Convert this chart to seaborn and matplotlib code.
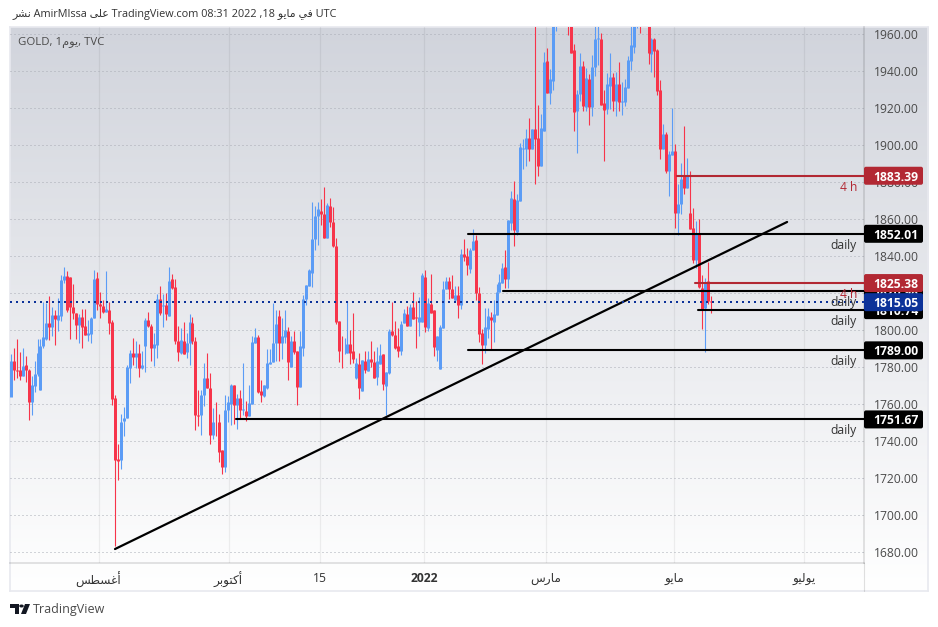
import matplotlib
matplotlib.use('Agg')
import matplotlib.pyplot as plt
import numpy as np
import pandas as pd
import seaborn as sns
from matplotlib.colors import LinearSegmentedColormap
from matplotlib.patches import FancyBboxPatch, Polygon, Circle
from matplotlib.transforms import IdentityTransform

# daily candles (the ones above 1964 are off screen, so guessed)
opens = [1764,1783,1778.6,1778.6,1775.4,1781.3,1778.6,1761.3,1769.6,1776.1,
    1767.4,1791.2,1795.3,1804,1801.8,1808.3,1805.6,1807.4,1826.8,1829.4,
    1828.8,1812.4,1809.2,1802.9,1807,1802.4,1797.1,1798,1806.3,1828.3,
    1814.2,1813.2,1809.9,1811,1804.5,1763,1730.4,1729.5,1750.9,1752.7,
    1779.3,1787.8,1785.6,1787.8,1779.7,1791.6,1805.6,1802.4,1790.5,1792.1,
    1817,1813.2,1813.7,1807.8,1827.7,1823.4,1793.9,1787.8,1794.3,1788,
    1793,1804,1794.3,1754.3,1753.9,1764.6,1774.3,1768.9,1743,1750.5,
    1750.5,1735.4,1725.7,1756.6,1759.9,1770.5,1759.7,1763.2,1756.9,1756.2,
    1753.5,1760,1792.9,1796.1,1767,1764.3,1768.6,1781.5,1782.6,1792.9,
    1807.5,1792.9,1796,1799.2,1779.9,1794,1788.7,1769.1,1790.2,1816.6,
    1823.7,1830.7,1849,1861.5,1864.2,1862.5,1849.6,1866.9,1858.2,1845.3,
    1804.8,1788.9,1788.4,1787.8,1792.3,1788.7,1774,1781.5,1767,1783.2,
    1778,1784.2,1782.6,1774.5,1781.5,1787,1769.7,1776.7,1799.4,1797.2,
    1791.3,1788.6,1803.7,1808.5,1802,1812.3,1807,1804.2,1804.2,1828.5,
    1801,1814,1810.7,1789.1,1778.8,1801.2,1821.9,1826.4,1822,1816.1,
    1818.8,1813.6,1840.9,1839.8,1832.8,1843,1848.4,1819.8,1798.2,1791.7,
    1800.4,1806.9,1804.1,1807.9,1820.3,1825.2,1833.8,1827.4,1858.1,1871,
    1853.1,1870,1897.6,1897.6,1904,1898.1,1908.4,1904,1888.9,1907.8,
    1945.6,1928.3,1934.8,1975,1995,2000,2050,1990,1985,1951.4,
    1918.6,1927.8,1942.9,1920.8,1935.9,1920.8,1942.4,1957.5,1957.5,1922.9,
    1919.5,1932,1937,1924,1933.2,1923.5,1923.5,1931,1945.6,1953.2,
    1972,1980,1972,1980,1985,1949.4,1957.5,1951.6,1930,1898.1,
    1905.7,1885.7,1894.5,1897,1863,1867.9,1883,1876.5,1863.5,1854.9,
    1837.6,1852.7,1822.5,1811.7,1826.3,1815.5]
highs = [1787,1790.3,1795.2,1788.3,1790.3,1786.2,1779.1,1775,1783.5,1795.2,
    1795.2,1815.1,1814.6,1818.6,1812.4,1811,1817.3,1829.9,1834,1831.7,
    1828.8,1824.9,1809.2,1808.8,1811.4,1811.4,1805.6,1807,1832.6,1831.5,
    1820.4,1816.4,1832,1815.3,1805.2,1765.1,1738.6,1754.8,1758.6,1781,
    1789,1795.9,1794.3,1792.6,1788.9,1806.5,1809.7,1803.4,1798.6,1819.5,
    1823.6,1819.6,1820,1834,1830.4,1827.6,1802.4,1801.3,1804.2,1798.6,
    1808.8,1807,1796.2,1767.8,1767.8,1782.2,1787.8,1777,1758,1761.1,
    1754.8,1735.4,1764.6,1764.2,1771,1770.5,1765.6,1767.5,1782.1,1761.6,
    1770.2,1796.7,1801,1797.2,1772.9,1770.2,1789.5,1789.6,1814.5,1810.7,
    1810.7,1806.6,1810.7,1801.5,1796.8,1799.2,1788.7,1799.2,1818.8,1824.2,
    1832.8,1869.2,1867,1869.2,1870.6,1877.1,1868.5,1871.2,1866.3,1849.6,
    1804.8,1796.7,1795.6,1815.6,1799.9,1809,1784.8,1787.5,1783.7,1788.5,
    1788.5,1794,1788.5,1790.7,1792.3,1787,1777.2,1800.4,1815,1804.8,
    1801,1804.8,1811.2,1812.9,1814,1820.4,1815.6,1817.7,1830.7,1832.3,
    1817.2,1830.1,1810.7,1796.7,1802.6,1826.4,1828.5,1828.5,1829.6,1823.7,
    1823.7,1844,1849,1844.1,1844.1,1854.4,1851.1,1823,1800.4,1811.7,
    1811.7,1810,1816,1824.7,1830.1,1836,1843,1859.2,1874.9,1880.3,
    1873.3,1901.3,1903,1908.9,1914.8,1908.9,1975,1921.9,1917,1950.5,
    1952.6,1941.3,1975,2000,2010,2070,2055,2010,1990,1954.8,
    1930,1949.9,1945.6,1941.8,1938.6,1948.9,1972,1975,1960.7,1929.9,
    1939,1949.9,1939.1,1939.7,1945.1,1934,1935.9,1948.3,1970,1975,
    1985,1990,1985,1990,1990,1958,1958,1952.1,1935.4,1911.6,
    1907.3,1897,1920.2,1900.3,1878.7,1890.5,1910.5,1893.2,1886.2,1866.2,
    1858.7,1859.8,1830,1827.9,1837,1818.2]
lows = [1764.2,1772.8,1773.9,1773.2,1775,1771.8,1751.2,1753.8,1766.4,1775.4,
    1767.4,1790.5,1794.4,1794.8,1797,1792.1,1799.3,1804.7,1825.4,1809.6,
    1795.3,1806,1795.3,1793,1790.1,1797.1,1794.3,1793,1806.3,1811,
    1806.3,1809.2,1809.9,1798,1759.3,1683.2,1718.8,1724.6,1742.6,1752.3,
    1771.4,1781.3,1779.5,1774.8,1779,1777.2,1801.5,1783.1,1780.8,1784.9,
    1808.3,1801.8,1805.2,1807.8,1822.2,1792.6,1783.1,1787.2,1787.2,1785.1,
    1781.3,1792.6,1746.2,1748,1743,1758.8,1768.5,1738.6,1741.3,1742.6,
    1728.9,1722.4,1723.2,1750.5,1748.5,1749.4,1746.7,1751.8,1754,1751,
    1753.5,1760,1792.9,1765.9,1761.2,1763.7,1768,1781.5,1782.6,1783.3,
    1783.2,1784.2,1793.2,1772.9,1779.9,1787,1759.4,1769.1,1785.9,1813.4,
    1823.7,1823.1,1843.1,1845.8,1856.6,1849.6,1849.6,1855.5,1844.7,1803.1,
    1782.8,1779.4,1787,1787.8,1781.5,1782.1,1773.4,1762.6,1767,1776.7,
    1777.8,1780,1774,1770.2,1781.4,1767.5,1754,1776.1,1796.7,1789.6,
    1785.3,1786.4,1803.7,1802,1802,1805.8,1790.2,1796.7,1804.2,1798.8,
    1799.4,1809.1,1785.9,1783.2,1778.8,1801.2,1821.9,1816.6,1817.2,1815.6,
    1806.4,1811.2,1837.1,1830,1830.6,1843,1816,1793.3,1781.5,1787.4,
    1795.5,1789.6,1793.3,1807.9,1820.3,1825.2,1822.5,1822.5,1853.8,1845.2,
    1851.1,1870,1887.3,1888.4,1891.6,1898.1,1878.7,1883.5,1888.9,1907.8,
    1928.3,1922.4,1930,1961.5,1985,1990,1985,1959.3,1949.9,1907.8,
    1895.9,1924,1918.6,1918.6,1911,1915.9,1937.5,1943.5,1921.9,1891.1,
    1916.5,1919.7,1918.6,1915.9,1918.6,1916,1921.3,1931,1940.8,1949.9,
    1963.4,1960.7,1965,1968,1944,1939.7,1937,1927.3,1892.2,1898.1,
    1885.1,1872.7,1894.5,1855,1851.1,1862.5,1873.3,1876.5,1854.4,1836,
    1833.3,1822.5,1800.4,1788.3,1813.9,1809]
closes = [1783,1778.2,1777.7,1775.4,1780.8,1778.2,1761,1770.5,1776.4,1787.6,
    1791.6,1796.2,1804,1801.8,1808.3,1806,1808.3,1827.2,1829.4,1811,
    1812.4,1809.2,1802.9,1807,1801.6,1797.1,1798.6,1806.7,1827.7,1814.2,
    1812.8,1809.9,1811.4,1803.6,1762.6,1729.6,1729,1750.5,1752.7,1779.9,
    1787.8,1785.6,1787.8,1779.7,1781.3,1805.6,1802.4,1790.1,1792.6,1817,
    1809.2,1813.7,1808.5,1826.3,1822.9,1793.9,1788.3,1794.8,1787.2,1793,
    1804.3,1793.9,1753.8,1753.4,1764.6,1774.3,1768.5,1743,1750.5,1750.2,
    1734,1725.7,1757,1761.3,1770.1,1759.7,1763,1756.9,1757.2,1753.5,
    1760.5,1793.4,1796.1,1766.4,1764.8,1770.2,1782.1,1782.6,1792.9,1803,
    1792.9,1796.5,1799.9,1782.6,1794,1788,1769.1,1791.3,1817,1824.2,
    1832.3,1849,1861.5,1865.2,1862.5,1849.6,1867.4,1858.2,1845.3,1804.2,
    1788.6,1788.6,1788.9,1792.3,1787.8,1784.2,1782.1,1768.6,1783.7,1778.3,
    1784.2,1782.6,1774,1783.2,1786.4,1770.7,1777.2,1799.4,1797.2,1790.2,
    1788.6,1803.1,1809.1,1802,1812.3,1805.8,1806.4,1806.9,1829.6,1801.5,
    1814.5,1809.1,1790.7,1796.7,1801.5,1822,1826.4,1822,1817.2,1818.8,
    1813.4,1841,1839.2,1834.9,1843.5,1848.2,1819.8,1797.7,1791.7,1801.4,
    1807.4,1805.2,1808.5,1820.7,1826.1,1833.3,1827.4,1859.2,1871.6,1853.8,
    1870.2,1899.2,1898.5,1904,1898.1,1908.4,1903,1888.9,1909.4,1945.1,
    1928.3,1935.9,1970,1995,2000,2050,1990,1985,1949.9,1918.1,
    1927.8,1942.9,1921.3,1936.4,1920.8,1942.4,1957.5,1958,1921.9,1919.2,
    1933.2,1937,1924,1933.2,1923.5,1924,1931.6,1946.2,1954.3,1972,
    1980,1972,1980,1985,1950,1957.5,1951,1929.4,1898.1,1905.7,
    1885.7,1894.9,1896.5,1863,1867.9,1881.9,1876.5,1883.5,1854.4,1837.6,
    1852.7,1823,1811.2,1825.2,1815.9,1815.05]

price_ticks = list(range(1680, 1961, 20))
month_pos = [29.5, 73.1, 103.8, 138.6, 179.5, 222.6, 266.2]
# arabic written in presentation forms, left to right, matplotlib has no shaping
month_labels = ['\ufeb2\ufec4\ufeb4\ufecf\ufe83', '\ufeae\ufe91\ufeee\ufe98\ufedb\ufe83', '15', '2022',
                '\ufeb1\ufead\ufe8e\ufee3', '\ufeee\ufef3\ufe8e\ufee3', '\ufeee\ufef4\ufedf\ufeee\ufef3']

level_prices = [1883.39, 1852.01, 1825.38, 1820.98, 1810.74, 1789.00, 1751.67]
level_starts = [223.6, 153.5, 229.6, 165.2, 230.6, 153.5, 75.6]
level_tags = ['4 h', 'daily', '4 h', 'daily', 'daily', 'daily', 'daily']
level_colors = ['#b22833', 'black', '#b22833', 'black', 'black', 'black', 'black']
trend_bars = [35, 260.5]
trend_prices = [1681.6, 1858.4]
last_price = 1815.05

RED = '#f7344a'
BLUE = '#5b9cf6'
W, H = 938, 627

sns.set_theme(style='white')
plt.rcParams['font.family'] = ['Open Sans', 'DejaVu Sans']

df = pd.DataFrame({'open': opens, 'high': highs, 'low': lows, 'close': closes})
df['bar'] = np.arange(len(df))
df['dir'] = np.where(df['close'] >= df['open'], 'up', 'down')
wicks = df.melt(id_vars=['bar', 'dir'], value_vars=['high', 'low'], value_name='price')
bodies = df.melt(id_vars=['bar', 'dir'], value_vars=['open', 'close'], value_name='price')

fig = plt.figure(figsize=(W / 100, H / 100), dpi=100, facecolor='white')


def px_axes(left, top, right, bottom):
    return fig.add_axes([left / W, 1 - bottom / H, (right - left) / W, (bottom - top) / H])


# background gradient, behind everything
bg = px_axes(10, 27, 928, 591)
cmap = LinearSegmentedColormap.from_list('tv', ['#d1d4dc', '#ffffff'])
bg.imshow(np.linspace(0, 1, 256)[:, None], aspect='auto', cmap=cmap)
bg.set_xticks([])
bg.set_yticks([])
for s in bg.spines.values():
    s.set_color('#e8e9ef')
    s.set_linewidth(1.2)
bg.set_zorder(0)

ax = px_axes(10, 27, 864, 563)
ax.set_facecolor('none')
ax.set_zorder(1)

palette = {'up': BLUE, 'down': RED}
sns.lineplot(data=wicks, x='bar', y='price', units='bar', estimator=None, hue='dir', palette=palette,
             linewidth=0.8, legend=False, ax=ax, solid_capstyle='butt')
sns.lineplot(data=bodies, x='bar', y='price', units='bar', estimator=None, hue='dir', palette=palette,
             linewidth=2.15, legend=False, ax=ax, solid_capstyle='butt')

ax.set_xlim(-0.23, 286.3)
ax.set_ylim(1674.05, 1963.8)

# levels and trend line
for p, start, c in zip(level_prices, level_starts, level_colors):
    line = pd.DataFrame({'bar': [start, 286.3], 'price': [p, p]})
    sns.lineplot(data=line, x='bar', y='price', color=c, linewidth=1.5, ax=ax, zorder=4)
trend = pd.DataFrame({'bar': trend_bars, 'price': trend_prices})
sns.lineplot(data=trend, x='bar', y='price', color='black', linewidth=1.6, ax=ax, zorder=4)
ax.axhline(last_price, color='#0c3299', linewidth=1.44, linestyle=(0, (1, 2)), zorder=4,
           dash_capstyle='butt')

ax.set_xlabel('')
ax.set_ylabel('')
ax.yaxis.tick_right()
ax.set_yticks(price_ticks)
ax.set_yticklabels(['%.2f' % t for t in price_ticks], fontsize=8.7, color='#4a4a4a')
ax.set_xticks(month_pos)
ax.set_xticklabels(month_labels, fontsize=8.7, color='#333333')
ax.get_xticklabels()[3].set_fontweight('bold')
ax.tick_params(axis='both', length=0)
ax.tick_params(axis='y', pad=7)
ax.tick_params(axis='x', pad=6.5)
ax.set_axisbelow(True)
ax.grid(True, axis='y', color='#a9acb5', linewidth=0.72, linestyle=(0, (1, 3)))
ax.grid(True, axis='x', color='black', alpha=0.06, linewidth=0.9)
ax.spines['left'].set_visible(False)
ax.spines['top'].set_visible(False)
ax.spines['right'].set_color((0, 0, 0, 0.12))
ax.spines['bottom'].set_color((0, 0, 0, 0.12))

# separator of the price strip runs on through the time strip
fig.add_artist(plt.Line2D([864 / W, 864 / W], [1 - 591 / H, 1 - 563 / H], color=(0, 0, 0, 0.12), linewidth=0.8))

# right hand labels, black one in the middle ends up covered like in the original
ident = IdentityTransform()
label_order = [0, 1, 3, 4, 5, 6, 2]
z = 10
for i in label_order:
    ypx = ax.transData.transform((0, level_prices[i]))[1]
    fig.add_artist(FancyBboxPatch((864, ypx - 9), 59, 18, boxstyle='round,pad=0,rounding_size=2',
                                  transform=ident, fc=level_colors[i], ec='none', zorder=z))
    fig.text(895.5 / W, ypx / H, '%.2f' % level_prices[i], color='white', fontsize=8.7, fontweight='bold',
             ha='center', va='center_baseline', zorder=z + 1)
    tag_color = '#b22833' if level_tags[i] == '4 h' else '#333333'
    fig.text(857 / W, (ypx - 10) / H, level_tags[i], color=tag_color, fontsize=8.7, ha='right',
             va='center_baseline', zorder=9)
    z += 2

ypx = ax.transData.transform((0, last_price))[1]
fig.add_artist(FancyBboxPatch((864, ypx - 9), 59, 18, boxstyle='round,pad=0,rounding_size=2',
                              transform=ident, fc='#0c3299', ec='none', zorder=z))
fig.text(895.5 / W, ypx / H, '%.2f' % last_price, color='white', fontsize=8.7, fontweight='bold',
         ha='center', va='center_baseline', zorder=z + 1)

# header and chart title
header = ('\ufeae\ufeb8\ufee7 AmirMIssa \ufef0\ufee0\ufecb TradingView.com 08:31 2022 ,18 '
          '\ufeee\ufef3\ufe8e\ufee3 \ufef2\ufed3 UTC')
fig.text(12 / W, 1 - 14 / H, header, fontsize=7.85, color='#333333', va='center')
fig.text(18 / W, 1 - 43 / H, 'GOLD, 1\ufee1\ufeee\ufef3, TVC', fontsize=8.2, color='#4a4a4a', va='center')

# logo, drawn from a few shapes
logo = '#131722'
def to_fig(x, y):
    return (x / W, 1 - y / H)
fig.add_artist(Polygon([to_fig(10, 604), to_fig(19, 604), to_fig(19, 614), to_fig(15, 614), to_fig(15, 608),
                        to_fig(10, 608)], transform=fig.transFigure, fc=logo, ec='none'))
fig.add_artist(Circle(to_fig(21.5, 606), 0.0024, transform=fig.transFigure, fc=logo, ec='none'))
fig.add_artist(Polygon([to_fig(25, 604), to_fig(30, 604), to_fig(26, 614), to_fig(21, 614)],
                       transform=fig.transFigure, fc=logo, ec='none'))
fig.text(33 / W, 1 - 609 / H, 'TradingView', fontsize=9, color='#4a4a4a', va='center')

fig.savefig('out.png', dpi=100)
